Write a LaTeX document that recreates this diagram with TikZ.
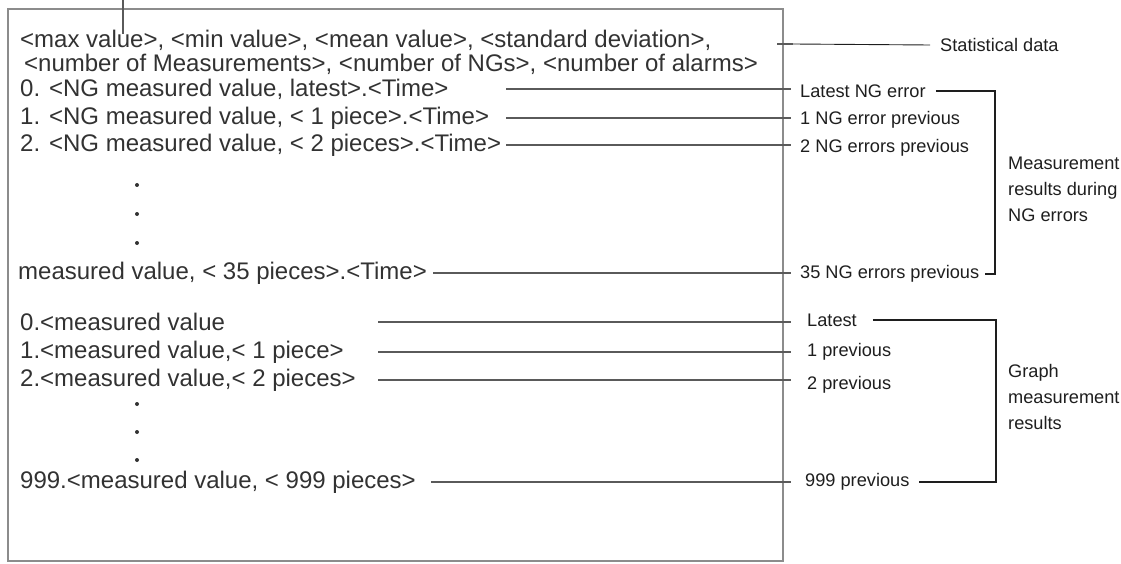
\documentclass[tikz,border=0pt]{standalone}
\usepackage{fontspec}
\setmainfont{Liberation Sans}
\usepackage{tikz}
\usetikzlibrary{positioning, calc}
\definecolor{panelgray}{RGB}{140, 140, 140}
\definecolor{leadgray}{RGB}{90, 90, 90}
\definecolor{rowgray}{RGB}{50, 50, 50}
\definecolor{labelblack}{RGB}{30, 30, 30}

\begin{document}
\begin{tikzpicture}[x=1pt, y=-1pt,
    rowtext/.style={anchor=west, inner sep=0pt, text=rowgray, font=\fontsize{24}{28}\selectfont},
    sidelabel/.style={anchor=west, inner sep=0pt, text=labelblack, font=\fontsize{18.2}{21}\selectfont},
    grouplabel/.style={anchor=west, inner sep=0pt, align=left, text=labelblack, font=\fontsize{18.2}{26}\selectfont},
    leader/.style={draw=leadgray, line width=2.2pt},
    bracket/.style={draw=labelblack, line width=1.1pt},
    dotmark/.style={circle, fill=rowgray, inner sep=0pt, minimum size=4pt}]
  \useasboundingbox (0,0) rectangle (1121,564);

  % output panel
  \draw[panelgray, line width=2pt] (8,9) rectangle (783,561);
  \coordinate (edge) at (791,0);
  \coordinate (ngstart) at (506,0);
  \coordinate (gstart) at (378,0);
  \coordinate (brA) at (995,0);
  \coordinate (brB) at (996,0);

  % rows of the panel
  \node[rowtext] (r1) at (20,40) {<max value>, <min value>, <mean value>, <standard deviation>,};
  \node[rowtext] (r2) at (24,64) {<number of Measurements>, <number of NGs>, <number of alarms>};
  \node[rowtext] (r3) at (20,89) {0. <NG measured value, latest>.<Time>};
  \node[rowtext] (r4) at (20,118) {1. <NG measured value, < 1 piece>.<Time>};
  \node[rowtext] (r5) at (20,145) {2. <NG measured value, < 2 pieces>.<Time>};
  \node[rowtext] (r35) at (18,273) {measured value, < 35 pieces>.<Time>};
  \node[rowtext] (g0) at (20,322) {0.<measured value};
  \node[rowtext] (g1) at (20,352) {1.<measured value,< 1 piece>};
  \node[rowtext] (g2) at (20,380) {2.<measured value,< 2 pieces>};
  \node[rowtext] (g999) at (20,482) {999.<measured value, < 999 pieces>};

  % skipped rows
  \foreach \y in {185, 214, 243, 404, 432, 460}
    \node[dotmark] at (137,\y) {};

  % labels on the right
  \node[sidelabel] (stat) at (940,45) {Statistical data};
  \node[sidelabel] (nglat) at (800,91) {Latest NG error};
  \node[sidelabel] (ng1) at (800,120) {1 NG error previous};
  \node[sidelabel] (ng2) at (800,148) {2 NG errors previous};
  \node[sidelabel] (ng35) at (800,274) {35 NG errors previous};
  \node[grouplabel] (meas) at (1008,189) {Measurement\\results during\\NG errors};
  \node[sidelabel] (glat) at (807,320) {Latest};
  \node[sidelabel] (gp1) at (807,352) {1 previous};
  \node[sidelabel] (gp2) at (807,385) {2 previous};
  \node[sidelabel] (gp999) at (805,482) {999 previous};
  \node[grouplabel] (graph) at (1008,397) {Graph\\measurement\\results};

  % leaders from the rows
  \coordinate (stubtop) at (123,0);
  \coordinate (stubend) at (123,34);
  \draw[leader, line width=2pt] (stubtop) -- (stubend);
  \coordinate (stattick) at (777,44);
  \coordinate (statend) at (793,44);
  \draw[leader] (stattick) -- (statend);
  \draw[bracket, line width=0.9pt] (statend) -- ([xshift=-10pt]stat.west);
  \foreach \r in {r3, r4, r5}
    \draw[leader] (\r.east -| ngstart) -- (\r.east -| edge);
  \draw[leader] ([xshift=6pt]r35.east) -- (r35.east -| edge);
  \foreach \r in {g0, g1, g2}
    \draw[leader] (\r.east -| gstart) -- (\r.east -| edge);
  \draw[leader] ([xshift=15pt]g999.east) -- (g999.east -| edge);

  % group brackets
  \draw[bracket] ([xshift=10pt]nglat.east) -- (nglat.east -| brA) -- (ng35.east -| brA) -- ([xshift=6pt]ng35.east);
  \draw[bracket] ([xshift=16pt]glat.east) -- (glat.east -| brB) -- (gp999.east -| brB) -- ([xshift=9pt]gp999.east);
\end{tikzpicture}
\end{document}
